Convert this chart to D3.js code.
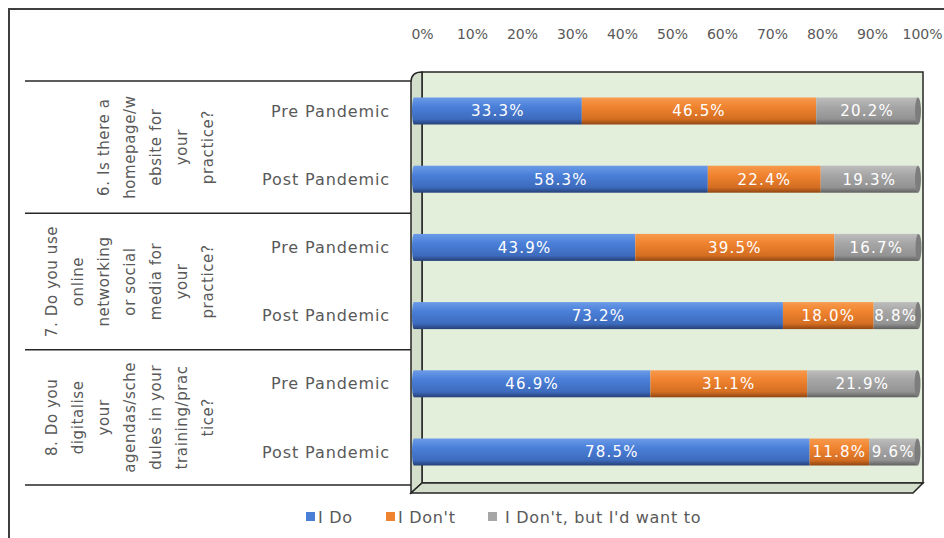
<!DOCTYPE html>
<html lang="en">
<head>
<meta charset="UTF-8">
<title>Digital practice: pre vs post pandemic</title>
<script src="https://d3js.org/d3.v7.min.js"></script>
<style>
  body { margin: 0; background: #fff; }
  svg text { font-family: "DejaVu Sans", sans-serif; fill: #595959; }
</style>
</head>
<body>
<div id="chart"></div>
<script>
// question text, already broken into the lines used in the picture
var questions = [
  ['6. Is there a', 'homepage/w', 'ebsite for', 'your', 'practice?'],
  ['7. Do you use', 'online', 'networking', 'or social', 'media for', 'your', 'practice?'],
  ['8. Do you', 'digitalise', 'your', 'agendas/sche', 'dules in your', 'training/prac', 'tice?']
];
var periods = ['Pre Pandemic', 'Post Pandemic'];
var seriesNames = ["I Do", "I Don't", "I Don't, but I'd want to"];
// one value per row: Q6 pre, Q6 post, Q7 pre, Q7 post, Q8 pre, Q8 post
var iDo       = [33.3, 58.3, 43.9, 73.2, 46.9, 78.5];
var iDont     = [46.5, 22.4, 39.5, 18.0, 31.1, 11.8];
var iDontWant = [20.2, 19.3, 16.7, 8.8, 21.9, 9.6];
var tickValues = [0, 10, 20, 30, 40, 50, 60, 70, 80, 90, 100];

var W = 944, H = 538;
var colors = ['#4a7fd8', '#f0832f', '#a6a6a6'];
var grads = [
  ['#6b9be8', '#4a7fd8', '#3d6bbd', '#253f75'],
  ['#f79a4d', '#f0832f', '#d46e22', '#8f4512'],
  ['#bdbdbd', '#a6a6a6', '#939393', '#5f5f5f']
];

var rows = iDo.map(function(v, i) {
  return { id: i, q: Math.floor(i / 2), period: periods[i % 2], s0: v, s1: iDont[i], s2: iDontWant[i] };
});
var keys = ['s0', 's1', 's2'];
var stacked = d3.stack().keys(keys)(rows);

var svg = d3.select('#chart').append('svg')
  .attr('width', W).attr('height', H);

var defs = svg.append('defs');
grads.forEach(function(g, k) {
  var lg = defs.append('linearGradient').attr('id', 'g' + k)
    .attr('x1', 0).attr('y1', 0).attr('x2', 0).attr('y2', 1);
  lg.append('stop').attr('offset', '0%').attr('stop-color', g[0]);
  lg.append('stop').attr('offset', '35%').attr('stop-color', g[1]);
  lg.append('stop').attr('offset', '80%').attr('stop-color', g[2]);
  lg.append('stop').attr('offset', '100%').attr('stop-color', g[3]);
});

// scales: bars sit on the front plane, ticks on the back wall
var x = d3.scaleLinear().domain([0, 100]).range([414, 918]);
var xBack = d3.scaleLinear().domain([0, 100]).range([422, 922]);
var y = d3.scalePoint().domain(rows.map(function(d) { return d.id; })).range([111, 452]);
var barH = 27;

// outer frame
svg.append('path')
  .attr('d', 'M9,' + H + 'V9H' + W)
  .attr('fill', 'none').attr('stroke', '#3f3f3f').attr('stroke-width', 2);

// 3d plot box
var wallTop = 72, wallBot = 483, back0 = 422, back1 = 923, dx = -11, dy = 10;
svg.append('rect')
  .attr('x', back0).attr('y', wallTop).attr('width', back1 - back0).attr('height', wallBot - wallTop)
  .attr('fill', '#e3eedb').attr('stroke', '#262626').attr('stroke-width', 1.5);
svg.append('path')
  .attr('d', 'M' + (back0 + dx) + ',' + (wallTop + dy) + 'Q' + (back0 + dx) + ',' + wallTop + ' ' + back0 + ',' + wallTop +
    'V' + wallBot + 'L' + (back0 + dx) + ',' + (wallBot + dy) + 'Z')
  .attr('fill', '#d3dfca').attr('stroke', '#262626').attr('stroke-width', 1.5);
svg.append('path')
  .attr('d', 'M' + back0 + ',' + wallBot + 'H' + back1 + 'L' + (back1 + dx + 1) + ',' + (wallBot + dy) +
    'H' + (back0 + dx) + 'Z')
  .attr('fill', '#d3dfca').attr('stroke', '#262626').attr('stroke-width', 1.5);

// top axis
var axis = svg.append('g')
  .attr('transform', 'translate(0,42)')
  .call(d3.axisTop(xBack).tickValues(tickValues).tickSize(0).tickPadding(3)
    .tickFormat(function(d) { return d + '%'; }));
axis.select('.domain').remove();
axis.selectAll('text')
  .style('font-family', '"DejaVu Sans", sans-serif')
  .style('font-size', '14px').attr('fill', '#595959');

// table on the left
var lineYs = [y(0) - 30, (y(1) + y(2)) / 2, (y(3) + y(4)) / 2, y(5) + 33];
svg.selectAll('.grid-line').data(lineYs).enter().append('line')
  .attr('x1', 25).attr('x2', back0 + dx)
  .attr('y1', function(d) { return d; }).attr('y2', function(d) { return d; })
  .attr('stroke', '#262626').attr('stroke-width', 1.5);

questions.forEach(function(lines, qi) {
  var cy = (lineYs[qi] + lineYs[qi + 1]) / 2;
  var g = svg.append('g');
  lines.forEach(function(t, li) {
    var cx = 208 - (lines.length - 1 - li) * 26 + 5;
    g.append('text')
      .attr('transform', 'translate(' + cx + ',' + cy + ') rotate(-90)')
      .attr('text-anchor', 'middle')
      .style('font-size', '15px').style('letter-spacing', '0.6px')
      .text(t);
  });
});

svg.selectAll('.period').data(rows).enter().append('text')
  .attr('x', 390).attr('y', function(d) { return y(d.id); })
  .attr('dy', '0.35em').attr('text-anchor', 'end')
  .style('font-size', '16px').style('letter-spacing', '0.9px')
  .text(function(d) { return d.period; });

// bars
stacked.forEach(function(layer, k) {
  svg.append('g').selectAll('rect').data(layer).enter().append('rect')
    .attr('x', function(d) { return x(d[0]); })
    .attr('y', function(d, i) { return y(i) - barH / 2; })
    .attr('width', function(d) { return x(d[1]) - x(d[0]); })
    .attr('height', barH)
    .attr('fill', 'url(#g' + k + ')');
});
// rounded ends
svg.append('g').selectAll('ellipse').data(stacked[2]).enter().append('ellipse')
  .attr('cx', function(d) { return x(d[1]); })
  .attr('cy', function(d, i) { return y(i); })
  .attr('rx', 3).attr('ry', barH / 2)
  .attr('fill', '#7d7d7d');
svg.append('g').selectAll('ellipse').data(stacked[0]).enter().append('ellipse')
  .attr('cx', function(d) { return x(d[0]); })
  .attr('cy', function(d, i) { return y(i); })
  .attr('rx', 2).attr('ry', barH / 2)
  .attr('fill', 'url(#g0)');

// data labels
stacked.forEach(function(layer, k) {
  svg.append('g').selectAll('text').data(layer).enter().append('text')
    .attr('x', function(d) { return (x(d[0]) + x(d[1])) / 2; })
    .attr('y', function(d, i) { return y(i); })
    .attr('dy', '0.36em').attr('text-anchor', 'middle')
    .style('font-size', '15px').style('letter-spacing', '1.2px')
    .style('fill', '#ffffff')
    .text(function(d) { return (d[1] - d[0]).toFixed(1) + '%'; });
});

// legend
var legendX = [306, 386, 488];
var legend = svg.append('g').selectAll('g').data(seriesNames).enter().append('g')
  .attr('transform', function(d, i) { return 'translate(' + legendX[i] + ',517)'; });
legend.append('rect')
  .attr('x', 0).attr('y', -5).attr('width', 9).attr('height', 9)
  .attr('fill', function(d, i) { return colors[i]; });
legend.append('text')
  .attr('x', function(d, i) { return i == 2 ? 17 : 12; }).attr('y', 0).attr('dy', '0.35em')
  .style('font-size', '16px').style('letter-spacing', '0.7px')
  .text(function(d) { return d; });
</script>
</body>
</html>
